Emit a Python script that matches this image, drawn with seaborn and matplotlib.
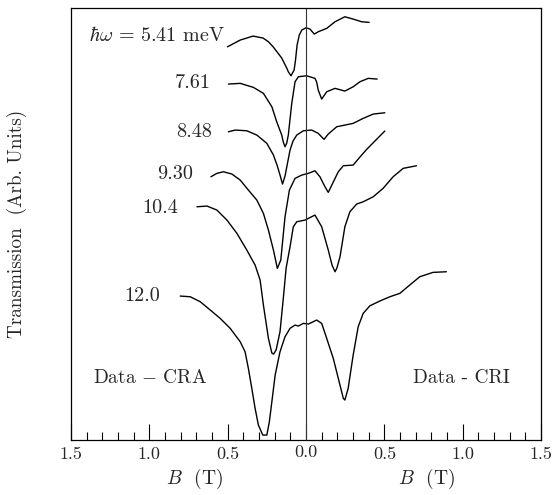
import numpy as np
import pandas as pd
import matplotlib
matplotlib.use("Agg")
import matplotlib.pyplot as plt
import matplotlib.transforms as mtransforms
from matplotlib.ticker import MultipleLocator, FixedLocator, FixedFormatter
import seaborn as sns

# ---------------------------------------------------------------------------
# DATA  (B in tesla, transmission in arbitrary units)
# ---------------------------------------------------------------------------
b_541 = [-0.501, -0.420, -0.338, -0.274, -0.240, -0.210, -0.155, -0.138, -0.123,
         -0.113, -0.096, -0.076, -0.067, -0.057, -0.043, -0.027, 0.000, 0.025,
         0.053, 0.078, 0.132, 0.185, 0.248, 0.301, 0.355, 0.403]
t_541 = [3.933, 4.00, 4.04, 4.02, 3.983, 3.933, 3.82, 3.767, 3.72, 3.683, 3.643,
         3.70, 3.80, 3.95, 4.05, 4.10, 4.123, 4.11, 4.06, 4.083, 4.117, 4.183,
         4.233, 4.21, 4.183, 4.177]

b_761 = [-0.495, -0.420, -0.336, -0.272, -0.218, -0.187, -0.155, -0.145, -0.134,
         -0.123, -0.113, -0.091, -0.070, -0.049, 0.004, 0.057, 0.068, 0.078, 0.100,
         0.132, 0.185, 0.248, 0.301, 0.344, 0.397, 0.454]
t_761 = [3.56, 3.567, 3.527, 3.467, 3.333, 3.183, 3.05, 2.98, 2.933, 2.97, 3.05,
         3.367, 3.583, 3.633, 3.643, 3.617, 3.58, 3.50, 3.41, 3.483, 3.517, 3.49,
         3.533, 3.583, 3.617, 3.61]

b_848 = [-0.495, -0.452, -0.378, -0.314, -0.250, -0.208, -0.185, -0.166, -0.150,
         -0.134, -0.118, -0.102, -0.083, -0.059, -0.017, 0.036, 0.078, 0.115, 0.142,
         0.196, 0.248, 0.301, 0.365, 0.429, 0.503]
t_848 = [3.083, 3.10, 3.093, 3.05, 2.967, 2.85, 2.75, 2.65, 2.56, 2.64, 2.77, 2.90,
         2.99, 3.05, 3.093, 3.10, 3.067, 3.007, 3.06, 3.133, 3.15, 3.167, 3.217,
         3.26, 3.273]

b_930 = [-0.607, -0.569, -0.527, -0.473, -0.420, -0.368, -0.314, -0.272, -0.240,
         -0.208, -0.183, -0.161, -0.134, -0.106, -0.070, -0.027, 0.015, 0.057, 0.089,
         0.121, 0.142, 0.170, 0.206, 0.238, 0.301, 0.344, 0.389, 0.427, 0.471, 0.503]
t_930 = [2.633, 2.667, 2.683, 2.66, 2.60, 2.50, 2.40, 2.267, 2.10, 1.90, 1.717,
         1.80, 2.233, 2.50, 2.617, 2.65, 2.667, 2.693, 2.633, 2.533, 2.477, 2.567,
         2.683, 2.743, 2.75, 2.83, 2.91, 2.97, 3.04, 3.09]

b_104 = [-0.696, -0.632, -0.569, -0.505, -0.441, -0.378, -0.325, -0.293, -0.272,
         -0.240, -0.218, -0.207, -0.191, -0.166, -0.145, -0.127, -0.102, -0.081,
         -0.059, -0.006, 0.057, 0.100, 0.142, 0.166, 0.185, 0.197, 0.217, 0.248,
         0.280, 0.323, 0.365, 0.429, 0.492, 0.556, 0.620, 0.705]
t_104 = [2.333, 2.34, 2.30, 2.20, 2.067, 1.90, 1.75, 1.60, 1.35, 1.017, 0.87, 0.86,
         0.90, 1.083, 1.417, 1.72, 1.933, 2.133, 2.183, 2.20, 2.25, 2.133, 1.90,
         1.75, 1.683, 1.72, 1.833, 2.133, 2.283, 2.36, 2.383, 2.433, 2.517, 2.633,
         2.717, 2.743]

b_120 = [-0.803, -0.739, -0.675, -0.611, -0.548, -0.484, -0.420, -0.389, -0.368,
         -0.346, -0.325, -0.304, -0.276, -0.250, -0.234, -0.218, -0.197, -0.166,
         -0.134, -0.102, -0.070, -0.049, -0.017, 0.015, 0.068, 0.100, 0.132, 0.174,
         0.206, 0.238, 0.248, 0.269, 0.301, 0.333, 0.365, 0.408, 0.471, 0.535,
         0.599, 0.662, 0.726, 0.811, 0.896]
t_120 = [1.44, 1.433, 1.383, 1.30, 1.217, 1.117, 0.983, 0.883, 0.717, 0.517, 0.317,
         0.15, 0.05, 0.05, 0.183, 0.383, 0.65, 0.883, 1.033, 1.117, 1.15, 1.14,
         1.167, 1.16, 1.20, 1.167, 1.017, 0.817, 0.617, 0.417, 0.40, 0.517, 0.85,
         1.133, 1.267, 1.343, 1.39, 1.433, 1.467, 1.55, 1.633, 1.677, 1.683]

energies = ["5.41", "7.61", "8.48", "9.30", "10.4", "12.0"]
curves = [(b_541, t_541), (b_761, t_761), (b_848, t_848),
          (b_930, t_930), (b_104, t_104), (b_120, t_120)]

# label anchor (right edge, vertical centre) for each trace
label_pos = [(-0.516, 4.05), (-0.605, 3.57), (-0.599, 3.08),
             (-0.720, 2.66), (-0.815, 2.32), (-0.930, 1.44)]

tick_pos = [-1.5, -1.0, -0.5, 0.0, 0.5, 1.0, 1.5]
tick_txt = ["1.5", "1.0", "0.5", "0.0", "0.5", "1.0", "1.5"]

# ---------------------------------------------------------------------------
# STYLE
# ---------------------------------------------------------------------------
sns.set_theme(style="white")
plt.rcParams["font.family"] = ["cmr10", "DejaVu Serif"]
plt.rcParams["mathtext.fontset"] = "cm"
plt.rcParams["axes.unicode_minus"] = False
plt.rcParams["axes.formatter.use_mathtext"] = True

fig = plt.figure(figsize=(5.57, 4.95), dpi=100)
ax = fig.add_axes([0.1275, 0.111, 0.8438, 0.8727])

rows = []
for e, (b, t) in zip(energies, curves):
    rows += [{"B": bb, "T": tt, "E": e} for bb, tt in zip(b, t)]
df = pd.DataFrame(rows)

for e in energies:
    sns.lineplot(data=df[df["E"] == e], x="B", y="T", sort=False,
                 estimator=None, color="black", linewidth=1.0,
                 solid_joinstyle="round", ax=ax)

ax.axvline(0.0, color="#333333", linewidth=0.8)

ax.set_xlim(-1.5, 1.5)
ax.set_ylim(0, 4.32)
for s in ax.spines.values():
    s.set_color("black")
    s.set_linewidth(0.9)

ax.xaxis.set_major_locator(FixedLocator(tick_pos))
ax.xaxis.set_major_formatter(FixedFormatter(tick_txt))
ax.xaxis.set_minor_locator(MultipleLocator(0.1))
ax.tick_params(axis="x", which="major", direction="in", length=11.5, width=0.8,
               color="black", bottom=True, labelsize=13, pad=5)
ax.tick_params(axis="x", which="minor", direction="in", length=5.8, width=0.8,
               color="black", bottom=True)
ax.set_yticks([])
ax.set_xlabel("")
ax.set_ylabel("Transmission  (Arb. Units)", fontsize=13.8)
ax.yaxis.set_label_coords(-0.093, 0.5)

# the "0.0" label sits a little higher in the original
lift = mtransforms.ScaledTranslation(0, 2 / 100, fig.dpi_scale_trans)
for lab in ax.get_xticklabels():
    if lab.get_position()[0] == 0.0:
        lab.set_transform(lab.get_transform() + lift)

for e, (x, y) in zip(energies, label_pos):
    txt = r"$\hbar\omega\,=\,5.41$ meV" if e == "5.41" else e
    ax.text(x, y, txt, ha="right", va="center", fontsize=14.5)

ax.text(-1.357, 0.62, r"Data $-$ CRA", ha="left", va="center", fontsize=14)
ax.text(0.682, 0.62, "Data - CRI", ha="left", va="center", fontsize=14)

trans = ax.get_xaxis_transform()
ax.text(-0.71, -0.09, r"$B$  (T)", transform=trans, ha="center", va="center",
        fontsize=14)
ax.text(0.77, -0.09, r"$B$  (T)", transform=trans, ha="center", va="center",
        fontsize=14)

fig.savefig("out.png", dpi=100)
